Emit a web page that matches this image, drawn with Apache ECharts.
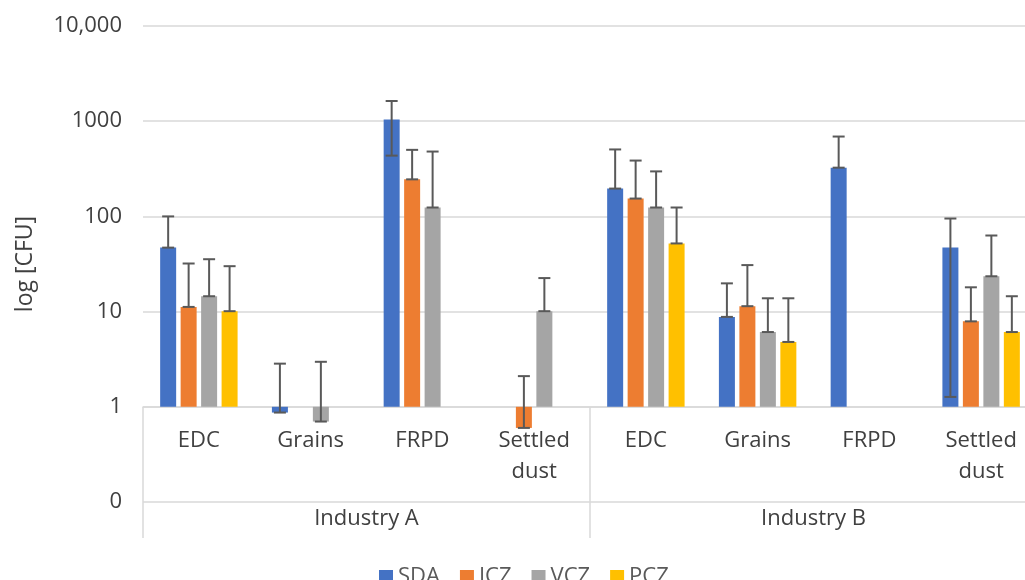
<!DOCTYPE html>
<html>
<head>
<meta charset="utf-8">
<script src="https://cdn.jsdelivr.net/npm/echarts@6/dist/echarts.min.js"></script>
<style>
  html, body { margin: 0; padding: 0; background: #fff; }
  #chart { width: 1025px; height: 580px; }
</style>
</head>
<body>
<div id="chart"></div>
<script>
// categories on the lower axis level, and the industry groups below them
const categories = ['EDC', 'Grains', 'FRPD', 'Settled dust', 'EDC', 'Grains', 'FRPD', 'Settled dust'];
const groups = ['Industry A', 'Industry B'];
const seriesNames = ['SDA', 'ICZ', 'VCZ', 'PCZ'];
const yTickLabels = ['0', '1', '10', '100', '1000', '10,000'];

// bar values (CFU), null = no bar
const sdaValues = [47, 0.87, 1040, null, 196, 8.8, 325, 47];
const iczValues = [11.2, null, 245, 0.6, 154, 11.4, null, 7.9];
const vczValues = [14.5, 0.7, 124, 10.1, 124, 6.1, null, 23.5];
const pczValues = [10.1, null, null, null, 52, 4.8, null, 6.1];

// error bar ends
const sdaErrHigh = [100, 2.84, 1630, null, 505, 19.8, 690, 95];
const sdaErrLow = [47, 0.87, 435, null, 196, 8.8, 325, 1.27];
const iczErrHigh = [32, null, 500, 2.1, 386, 30.8, null, 18];
const iczErrLow = [11.2, null, 245, 0.6, 154, 11.4, null, 7.9];
const vczErrHigh = [35.5, 2.97, 480, 22.5, 297, 13.8, null, 63];
const vczErrLow = [14.5, 0.7, 124, 10.1, 124, 6.1, null, 23.5];
const pczErrHigh = [30, null, null, null, 124, 13.8, null, 14.5];
const pczErrLow = [10.1, null, null, null, 52, 4.8, null, 6.1];

const colors = ['#4472C4', '#ED7D31', '#A5A5A5', '#FFC000'];
const values = [sdaValues, iczValues, vczValues, pczValues];
const errHigh = [sdaErrHigh, iczErrHigh, vczErrHigh, pczErrHigh];
const errLow = [sdaErrLow, iczErrLow, vczErrLow, pczErrLow];

const fontFamily = '"Open Sans", sans-serif';
const textColor = '#404040';
const barWidth = 16;
const barGap = 0.28;
const barPitch = barWidth * (1 + barGap);

const chart = echarts.init(document.getElementById('chart'));

function errorSeries(k) {
  const data = [];
  errHigh[k].forEach(function (h, i) {
    if (h != null) data.push([i, errLow[k][i], h]);
  });
  return {
    type: 'custom',
    name: seriesNames[k] + ' error',
    xAxisIndex: 0,
    z: 5,
    silent: true,
    data: data,
    encode: { x: 0, y: [1, 2] },
    renderItem: function (params, api) {
      const lo = api.coord([api.value(0), api.value(1)]);
      const hi = api.coord([api.value(0), api.value(2)]);
      const x = lo[0] + (k - 1.5) * barPitch;
      const style = { stroke: '#595959', lineWidth: 2 };
      return {
        type: 'group',
        children: [
          { type: 'line', shape: { x1: x, y1: lo[1], x2: x, y2: hi[1] }, style: style },
          { type: 'line', shape: { x1: x - 6, y1: hi[1], x2: x + 6, y2: hi[1] }, style: style },
          { type: 'line', shape: { x1: x - 6, y1: lo[1], x2: x + 6, y2: lo[1] }, style: style }
        ]
      };
    }
  };
}

const barSeries = seriesNames.map(function (name, k) {
  return {
    name: name,
    type: 'bar',
    xAxisIndex: 0,
    barWidth: barWidth,
    barGap: (barGap * 100) + '%',
    itemStyle: { color: colors[k] },
    data: values[k].map(function (v) { return v == null ? '-' : v; })
  };
});

chart.setOption({
  animation: false,
  textStyle: { fontFamily: fontFamily },
  // plot area runs a little past the right edge of the picture
  grid: { left: 143, width: 894, top: 26, bottom: 78, outerBoundsMode: 'none', containLabel: false },
  legend: {
    data: seriesNames,
    left: 374,
    top: 561,
    itemWidth: 14,
    itemHeight: 14,
    itemGap: 20,
    icon: 'rect',
    textStyle: { fontSize: 22, color: '#595959', fontFamily: fontFamily }
  },
  xAxis: [
    {
      type: 'category',
      data: categories,
      position: 'bottom',
      offset: -95,
      axisLine: { show: true, lineStyle: { color: '#D9D9D9', width: 1.5 } },
      axisTick: { show: false },
      axisLabel: {
        interval: 0,
        margin: 18,
        fontSize: 22,
        lineHeight: 31,
        color: textColor,
        formatter: function (v) { return v.replace(' ', '\n'); }
      }
    },
    {
      type: 'category',
      data: groups,
      position: 'bottom',
      offset: -95,
      axisLine: { show: false },
      axisTick: { show: true, length: 131, lineStyle: { color: '#D9D9D9', width: 1.5 } },
      axisLabel: { margin: 101, fontSize: 22, color: textColor }
    }
  ],
  yAxis: {
    type: 'log',
    logBase: 10,
    min: 0.1,
    max: 10000,
    name: 'log [CFU]',
    nameLocation: 'middle',
    nameGap: 106,
    nameTextStyle: { fontSize: 23, color: textColor },
    axisLine: { show: false },
    axisTick: { show: false },
    splitLine: { show: true, lineStyle: { color: '#D9D9D9', width: 1.5 } },
    axisLabel: {
      margin: 21,
      fontSize: 22,
      color: textColor,
      formatter: function (v) {
        return yTickLabels[Math.round(Math.log10(v)) + 1];
      }
    }
  },
  series: barSeries.concat(seriesNames.map(function (n, k) { return errorSeries(k); }))
});
</script>
</body>
</html>
